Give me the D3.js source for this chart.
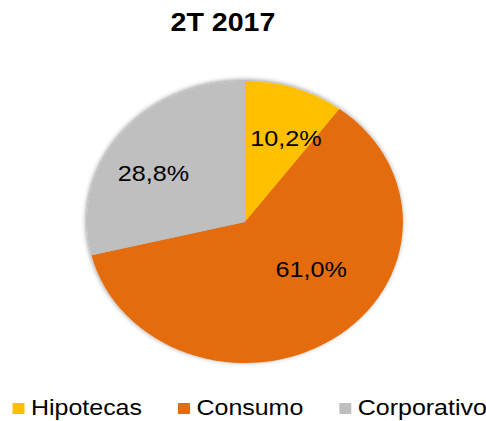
<!DOCTYPE html>
<html>
<head>
<meta charset="utf-8">
<script src="https://cdn.jsdelivr.net/npm/d3@7"></script>
<style>
  body { margin: 0; background: #fff; }
  text { font-family: "Liberation Sans", Arial, sans-serif; }
</style>
</head>
<body>
<svg id="chart" width="486" height="421"></svg>
<script>
// data
var title = "2T 2017"
var categories = ["Hipotecas", "Consumo", "Corporativo"]
var values = [10.2, 61.0, 28.8]
var colors = ["#FFC000", "#E46C0A", "#BFBFBF"]

// the original is stretched horizontally
var sx = 1.12
var cx = 245, cy = 222, r = 141

var svg = d3.select("#chart")

var defs = svg.append("defs")
var f = defs.append("filter").attr("id", "shadow")
  .attr("x", "-20%").attr("y", "-20%").attr("width", "140%").attr("height", "140%")
f.append("feGaussianBlur").attr("in", "SourceAlpha").attr("stdDeviation", 2.5)
f.append("feOffset").attr("dx", -1).attr("dy", -1).attr("result", "blur")
f.append("feComponentTransfer").append("feFuncA").attr("type", "linear").attr("slope", 0.45)
var m = f.append("feMerge")
m.append("feMergeNode")
m.append("feMergeNode").attr("in", "SourceGraphic")

svg.append("text")
  .attr("transform", "translate(223,31) scale(" + sx + ",1)")
  .attr("text-anchor", "middle")
  .attr("font-size", 25.5)
  .attr("font-weight", "bold")
  .attr("fill", "#000")
  .text(title)

var pie = d3.pie().sort(null).value(function(d){ return d })
var arcs = pie(values)
var arc = d3.arc().innerRadius(0).outerRadius(r)
var labelArc = d3.arc().innerRadius(r * 0.6).outerRadius(r * 0.6)

var g = svg.append("g")
  .attr("transform", "translate(" + cx + "," + cy + ") scale(" + sx + ",1)")

g.append("g").attr("filter", "url(#shadow)")
  .selectAll("path")
  .data(arcs)
  .enter().append("path")
    .attr("d", arc)
    .attr("fill", function(d, i){ return colors[i] })

// Excel "best fit" label nudges (layout only)
var nudge = [[11, -4], [14, -24], [-17, 3]]

svg.append("g").selectAll("text")
  .data(arcs)
  .enter().append("text")
    .attr("transform", function(d, i){
      var c = labelArc.centroid(d)
      return "translate(" + (cx + c[0] * sx + nudge[i][0]) + "," + (cy + c[1] + nudge[i][1]) + ") scale(" + sx + ",1)"
    })
    .attr("text-anchor", "middle")
    .attr("dy", "0.36em")
    .attr("font-size", 22.5)
    .attr("fill", "#000")
    .text(function(d){ return d.data.toFixed(1).replace(".", ",") + "%" })

// legend
var legend = svg.append("g")
var lx = 12.5
categories.forEach(function(name, i){
  legend.append("rect")
    .attr("x", lx).attr("y", 403)
    .attr("width", 12).attr("height", 11)
    .attr("fill", colors[i])
  var t = legend.append("text")
    .attr("transform", "translate(" + (lx + 18.5) + ",415) scale(" + sx + ",1)")
    .attr("font-size", 22.3)
    .attr("fill", "#000")
    .text(name)
  lx += 18.5 + t.node().getComputedTextLength() * sx + 36
})
</script>
</body>
</html>
